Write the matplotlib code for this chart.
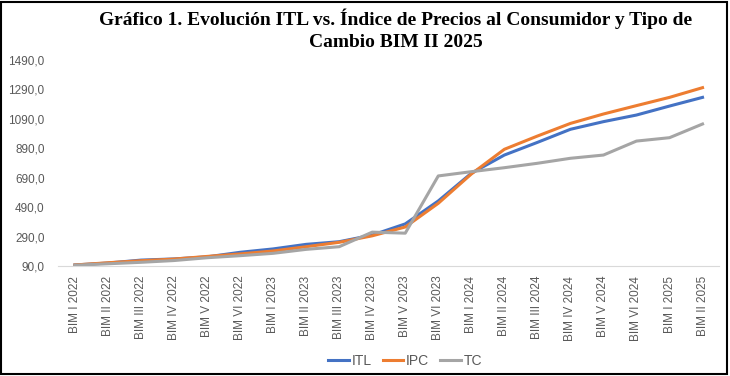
import matplotlib.pyplot as plt
import numpy as np
from matplotlib.patches import Rectangle
from matplotlib.ticker import FuncFormatter

# datos
categorias = ["BIM I 2022", "BIM II 2022", "BIM III 2022", "BIM IV 2022", "BIM V 2022", "BIM VI 2022",
              "BIM I 2023", "BIM II 2023", "BIM III 2023", "BIM IV 2023", "BIM V 2023", "BIM VI 2023",
              "BIM I 2024", "BIM II 2024", "BIM III 2024", "BIM IV 2024", "BIM V 2024", "BIM VI 2024",
              "BIM I 2025", "BIM II 2025"]
itl = [97, 110, 130, 138, 152, 183, 206, 237, 255, 300, 376, 532, 720, 844, 930, 1019, 1071, 1116, 1177, 1236]
ipc = [97, 112, 126, 137, 155, 172, 192, 221, 251, 295, 355, 516, 715, 883, 973, 1059, 1123, 1180, 1236, 1302]
tc = [95, 105, 115, 127, 146, 160, 176, 203, 221, 320, 313, 702, 731, 758, 788, 822, 844, 939, 962, 1055]
yticks = [90, 290, 490, 690, 890, 1090, 1290, 1490]

x = np.arange(len(categorias))

fig = plt.figure(figsize=(7.3, 3.76), dpi=100)
ax = fig.add_axes([0.080, 0.2926, 0.905, 0.5478])

ax.plot(x, itl, color="#4472C4", lw=2.2, label="ITL")
ax.plot(x, ipc, color="#ED7D31", lw=2.2, label="IPC")
ax.plot(x, tc, color="#A5A5A5", lw=2.2, label="TC")

ax.set_xlim(-0.5, len(categorias) - 0.5)
ax.set_ylim(90, 1490)
ax.set_yticks(yticks)
ax.yaxis.set_major_formatter(FuncFormatter(lambda v, p: f"{v:.1f}".replace(".", ",")))
ax.set_xticks(x)
ax.set_xticklabels(categorias, rotation=90)
ax.tick_params(axis="both", length=0, labelsize=8.5, labelcolor="#595959")
ax.tick_params(axis="x", pad=7)
ax.tick_params(axis="y", pad=10)
for lab in ax.get_xticklabels() + ax.get_yticklabels():
    lab.set_fontfamily("Liberation Sans")

for s in ["top", "right", "left"]:
    ax.spines[s].set_visible(False)
ax.spines["bottom"].set_color("#D9D9D9")

fig.text(0.542, 0.978, "Gráfico 1. Evolución ITL vs. Índice de Precios al Consumidor y Tipo de\nCambio BIM II 2025",
         ha="center", va="top", fontsize=14, fontweight="bold", family="Liberation Serif",
         linespacing=1.4)

leg = fig.legend(loc="center", bbox_to_anchor=(0.555, 0.04), ncol=3, frameon=False,
                 handlelength=1.5, handletextpad=0.2, columnspacing=0.8,
                 prop={"family": "Liberation Sans", "size": 10})
for t in leg.get_texts():
    t.set_color("#595959")

# borde
fig.patches.append(Rectangle((0.002, 0.004), 0.994, 0.992, transform=fig.transFigure,
                             fill=False, edgecolor="black", lw=1.5))

fig.savefig("out.png", dpi=100)
